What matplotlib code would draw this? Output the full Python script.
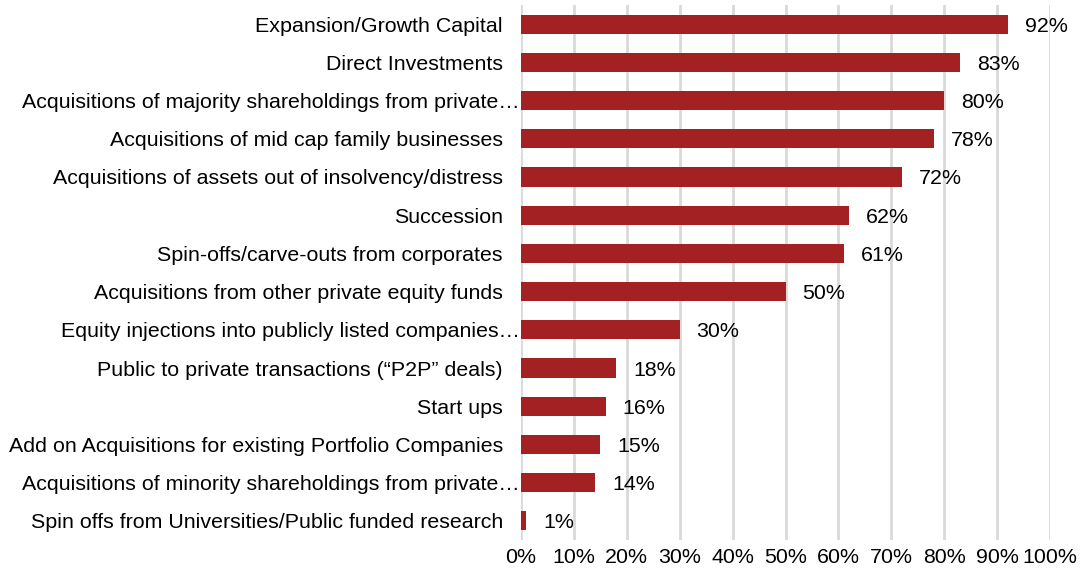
import matplotlib
matplotlib.use("Agg")
import matplotlib.pyplot as plt
from matplotlib.ticker import FuncFormatter
from matplotlib.transforms import ScaledTranslation

plt.rcParams['font.family'] = ['Liberation Sans', 'DejaVu Sans']

categories = [
    "Expansion/Growth Capital",
    "Direct Investments",
    "Acquisitions of majority shareholdings from private\u2026",
    "Acquisitions of mid cap family businesses",
    "Acquisitions of assets out of insolvency/distress",
    "Succession",
    "Spin-offs/carve-outs from corporates",
    "Acquisitions from other private equity funds",
    "Equity injections into publicly listed companies\u2026",
    "Public to private transactions (\u201cP2P\u201d deals)",
    "Start ups",
    "Add on Acquisitions for existing Portfolio Companies",
    "Acquisitions of minority shareholdings from private\u2026",
    "Spin offs from Universities/Public funded research",
]
shares = [92, 83, 80, 78, 72, 62, 61, 50, 30, 18, 16, 15, 14, 1]
x_ticks = list(range(0, 101, 10))

bar_color = "#A32023"
fs = 15.4

fig = plt.figure(figsize=(10.83, 5.77), dpi=100)
ax = fig.add_axes([521 / 1083, 1 - 540 / 577, 529 / 1083, 535 / 577])

pos = list(range(len(categories)))
ax.barh(pos, shares, height=0.5, color=bar_color, zorder=3)

for y, v in zip(pos, shares):
    ax.text(v + 3.2, y, f"{v}%", va="center_baseline", ha="left", fontsize=fs, color="black")

ax.set_ylim(len(categories) - 0.5, -0.5)
ax.set_xlim(0, 100)
ax.set_xticks(x_ticks)
ax.xaxis.set_major_formatter(FuncFormatter(lambda v, _: f"{v:.0f}%"))
ax.set_yticks(pos)
ax.set_yticklabels(categories, va="center_baseline")
ax.tick_params(axis="y", length=0, pad=13, labelsize=fs)
ax.tick_params(axis="x", length=0, pad=6, labelsize=fs)

# truncated labels run right up to the bars
shift = ScaledTranslation(0.17, 0, fig.dpi_scale_trans)
for lbl in ax.get_yticklabels():
    if lbl.get_text().endswith("\u2026"):
        lbl.set_transform(lbl.get_transform() + shift)

ax.grid(axis="x", color="#D9D9D9", linewidth=2, zorder=0)
for s in ax.spines.values():
    s.set_visible(False)

fig.savefig("out.png", dpi=100, facecolor="white")
